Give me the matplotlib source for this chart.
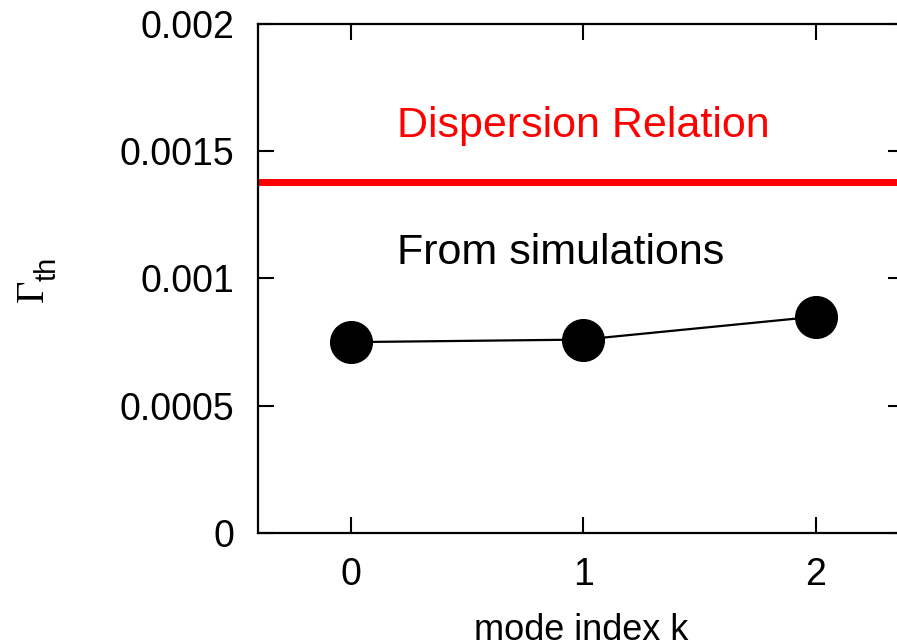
import matplotlib
matplotlib.use("Agg")
import matplotlib.pyplot as plt

plt.rcParams['font.family'] = ['Liberation Sans', 'DejaVu Sans']

# data
mode_k = [0, 1, 2]
gamma_sim = [0.00075, 0.00076, 0.00085]
gamma_disp = 0.00138
xticks = [0, 1, 2]
yticks = [0, 0.0005, 0.001, 0.0015, 0.002]
ytick_labels = ['0', '0.0005', '0.001', '0.0015', '0.002']

W, H = 897, 643
fig = plt.figure(figsize=(W / 100, H / 100), dpi=100)
l, r, b, t = 258, 904, 533, 24
ax = fig.add_axes([l / W, 1 - b / H, (r - l) / W, (b - t) / H])

ax.axhline(gamma_disp, color='#ff0000', lw=5, zorder=2)
ax.plot(mode_k, gamma_sim, color='black', lw=1.6, marker='o', ms=30,
        mfc='black', mec='black', zorder=3, clip_on=False)

ax.set_xlim(-0.4, 2.38)
ax.set_ylim(0, 0.002)
ax.set_xticks(xticks)
ax.set_xticklabels([str(k) for k in xticks])
ax.set_yticks(yticks)
ax.set_yticklabels(ytick_labels)
ax.tick_params(direction='in', length=11.5, width=1.5, labelsize=27,
               top=True, right=True)
ax.tick_params(axis='y', pad=17)
ax.tick_params(axis='x', pad=17)
for s in ax.spines.values():
    s.set_linewidth(1.6)

ax.text(0.2, 0.0016, 'Dispersion Relation', color='#ff0000', fontsize=31,
        ha='left', va='center')
ax.text(0.2, 0.00110, 'From simulations', color='black', fontsize=31,
        ha='left', va='center')

fig.text(581 / W, 1 - 631 / H, 'mode index k', fontsize=26,
         ha='center', va='center')
# y label: Gamma (serif) with sans subscript "th"
fig.text(33 / W, 1 - 291 / H, '\u0393', family='Liberation Serif',
         fontsize=28, rotation=90, ha='center', va='center')
fig.text(47 / W, 1 - 269 / H, 'th', fontsize=21,
         rotation=90, ha='center', va='center')

fig.savefig('out.png', dpi=100)
